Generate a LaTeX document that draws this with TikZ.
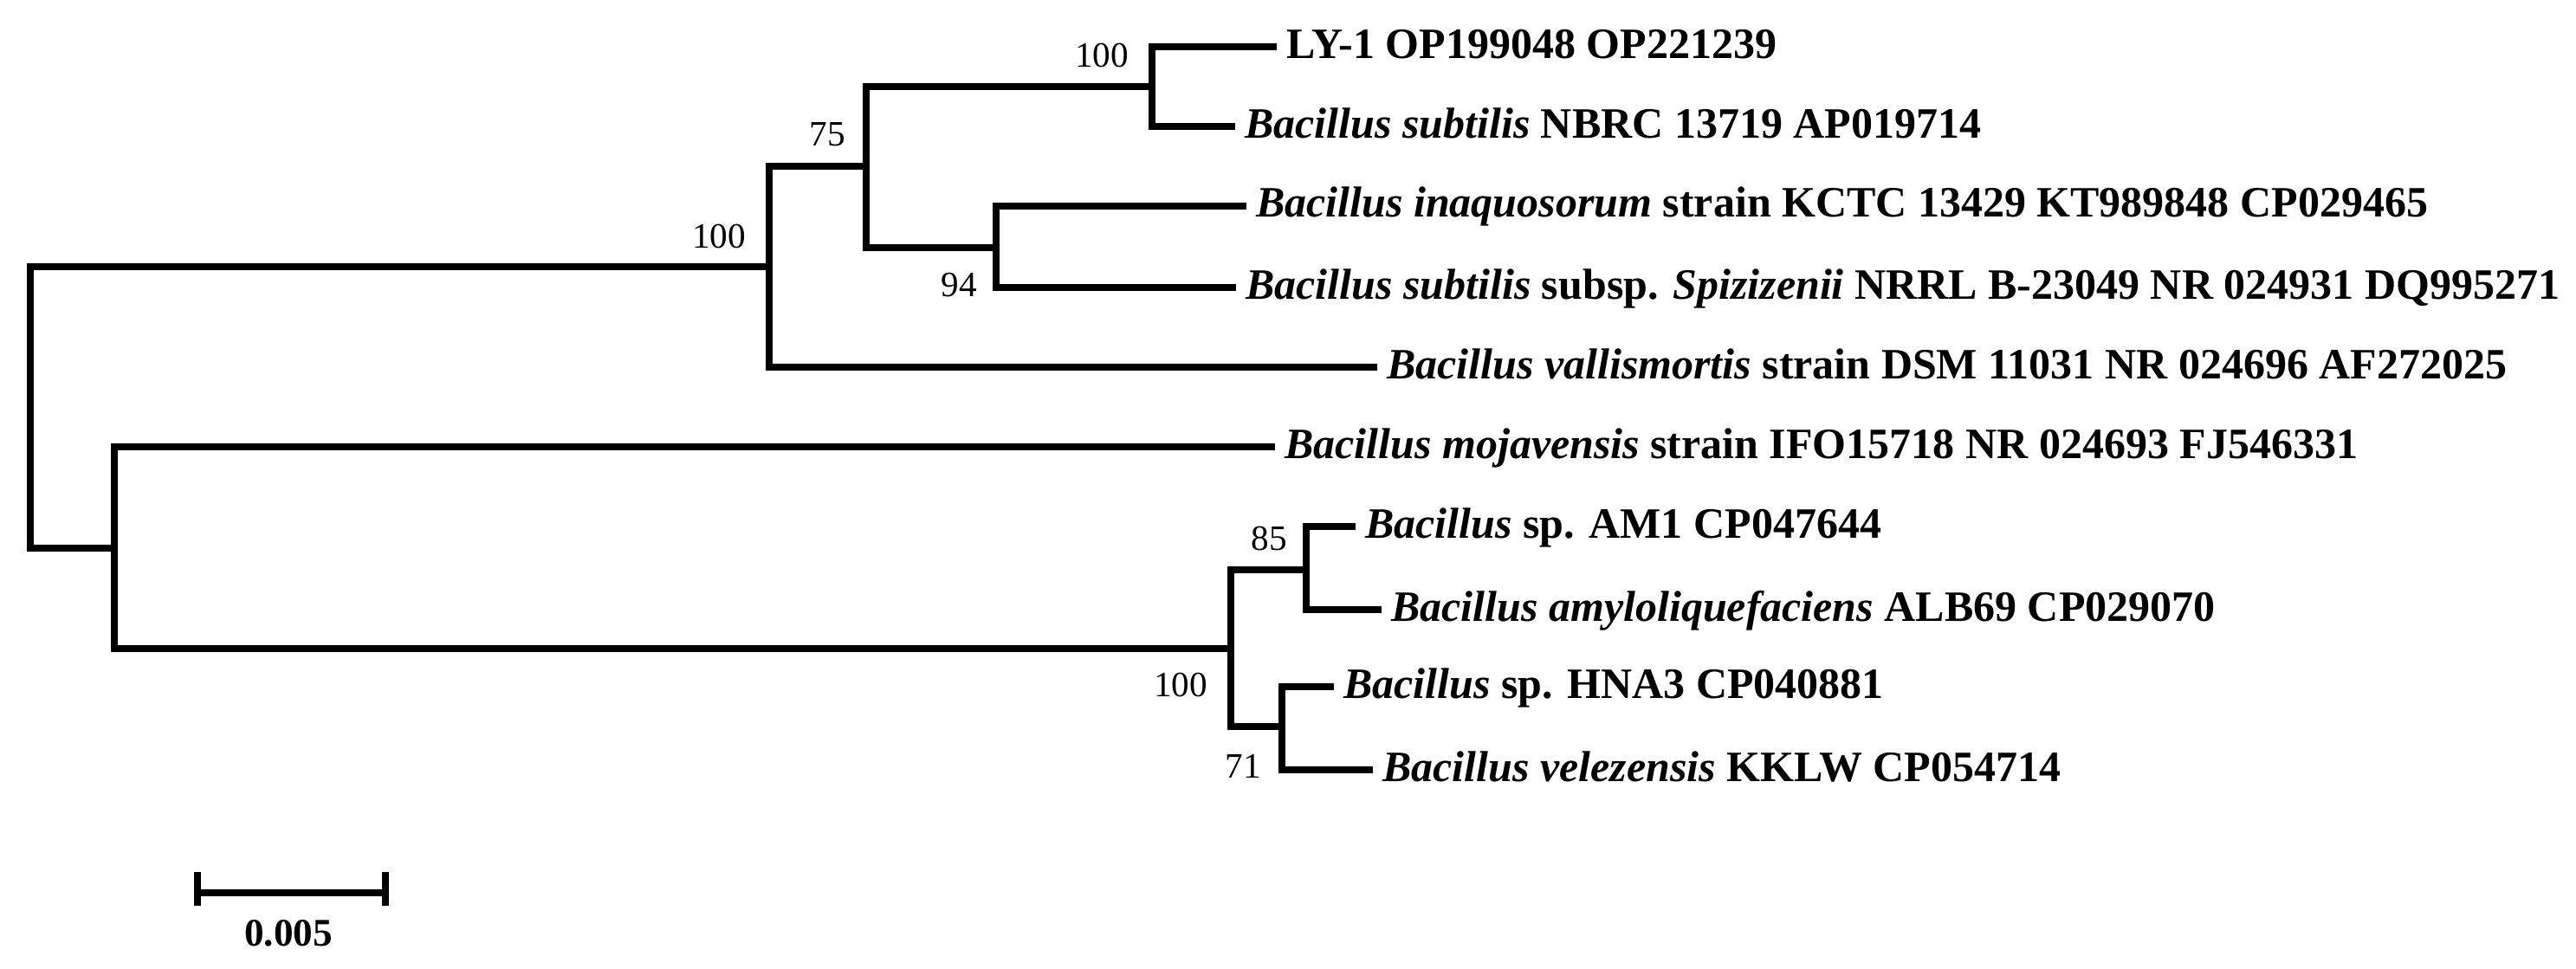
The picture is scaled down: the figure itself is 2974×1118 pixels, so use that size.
\documentclass[tikz,border=0pt]{standalone}
\usepackage{fontspec}
\setmainfont{Liberation Serif}
\usetikzlibrary{calc}
\begin{document}
\begin{tikzpicture}[x=0.25pt,y=-0.25pt,
  branch/.style={line width=2pt,line cap=rect,line join=miter},
  leaf/.style={anchor=west,inner xsep=3.6pt,inner ysep=0pt,font=\fontsize{12.5}{14}\selectfont\bfseries,text height=0.66em,text depth=0pt},
  boot/.style={anchor=center,inner sep=0pt,font=\fontsize{10.3}{12}\selectfont}]
\useasboundingbox (0,0) rectangle (2974,1118);
% internal nodes
\coordinate (R) at (35,470.5);
\coordinate (A) at (888,308);
\coordinate (C) at (1000,192);
\coordinate (D) at (1330,100);
\coordinate (E) at (1150,286);
\coordinate (B) at (132,632.5);
\coordinate (F) at (1421,748.5);
\coordinate (G) at (1508,658);
\coordinate (H) at (1480,839);
% leaves
\coordinate (l1) at (1470,54);
\coordinate (l2) at (1422,146);
\coordinate (l3) at (1435,237.5);
\coordinate (l4) at (1423,332);
\coordinate (l5) at (1586,424);
\coordinate (l6) at (1468,516);
\coordinate (l7) at (1561,608);
\coordinate (l8) at (1591,704);
\coordinate (l9) at (1536,793);
\coordinate (l10) at (1581,889);
% branches
\draw[branch] (R) |- (A);
\draw[branch] (R) |- (B);
\draw[branch] (A) |- (C);
\draw[branch] (A) |- (l5);
\draw[branch] (C) |- (D);
\draw[branch] (C) |- (E);
\draw[branch] (D) |- (l1);
\draw[branch] (D) |- (l2);
\draw[branch] (E) |- (l3);
\draw[branch] (E) |- (l4);
\draw[branch] (B) |- (l6);
\draw[branch] (B) |- (F);
\draw[branch] (F) |- (G);
\draw[branch] (F) |- (H);
\draw[branch] (G) |- (l7);
\draw[branch] (G) |- (l8);
\draw[branch] (H) |- (l9);
\draw[branch] (H) |- (l10);
% leaf labels
\node[leaf] (t1) at (l1) {LY-1 OP199048 OP221239};
\node[leaf] (t2) at (l2) {\textit{Bacillus subtilis} NBRC 13719 AP019714};
\node[leaf] (t3) at (l3) {\textit{Bacillus inaquosorum} strain KCTC 13429 KT989848 CP029465};
\node[leaf] (t4) at (l4) {\textit{Bacillus subtilis} subsp. \textit{Spizizenii} NRRL B-23049 NR 024931 DQ995271};
\node[leaf] (t5) at (l5) {\textit{Bacillus vallismortis} strain DSM 11031 NR 024696 AF272025};
\node[leaf] (t6) at (l6) {\textit{Bacillus mojavensis} strain IFO15718 NR 024693 FJ546331};
\node[leaf] (t7) at (l7) {\textit{Bacillus} sp. AM1 CP047644};
\node[leaf] (t8) at (l8) {\textit{Bacillus amyloliquefaciens} ALB69 CP029070};
\node[leaf] (t9) at (l9) {\textit{Bacillus} sp. HNA3 CP040881};
\node[leaf] (t10) at (l10) {\textit{Bacillus velezensis} KKLW CP054714};
% bootstrap values
\node[boot] (bD) at (1272,64) {100};
\node[boot] (bC) at (955,155) {75};
\node[boot] (bA) at (830,273) {100};
\node[boot] (bE) at (1107,329) {94};
\node[boot] (bG) at (1465,622) {85};
\node[boot] (bF) at (1363,791) {100};
\node[boot] (bH) at (1435,885) {71};
% scale bar
\coordinate (sbL) at (228,1031);
\coordinate (sbR) at (445,1031);
\draw[line width=2pt] (sbL) -- (sbR);
\draw[line width=2pt] ($(sbL)+(0,-24)$) -- ($(sbL)+(0,15)$);
\draw[line width=2pt] ($(sbR)+(0,-24)$) -- ($(sbR)+(0,15)$);
\node[font=\fontsize{11.3}{13}\selectfont\bfseries,inner sep=0pt] (sbT) at (333,1078) {0.005};
\end{tikzpicture}
\end{document}
